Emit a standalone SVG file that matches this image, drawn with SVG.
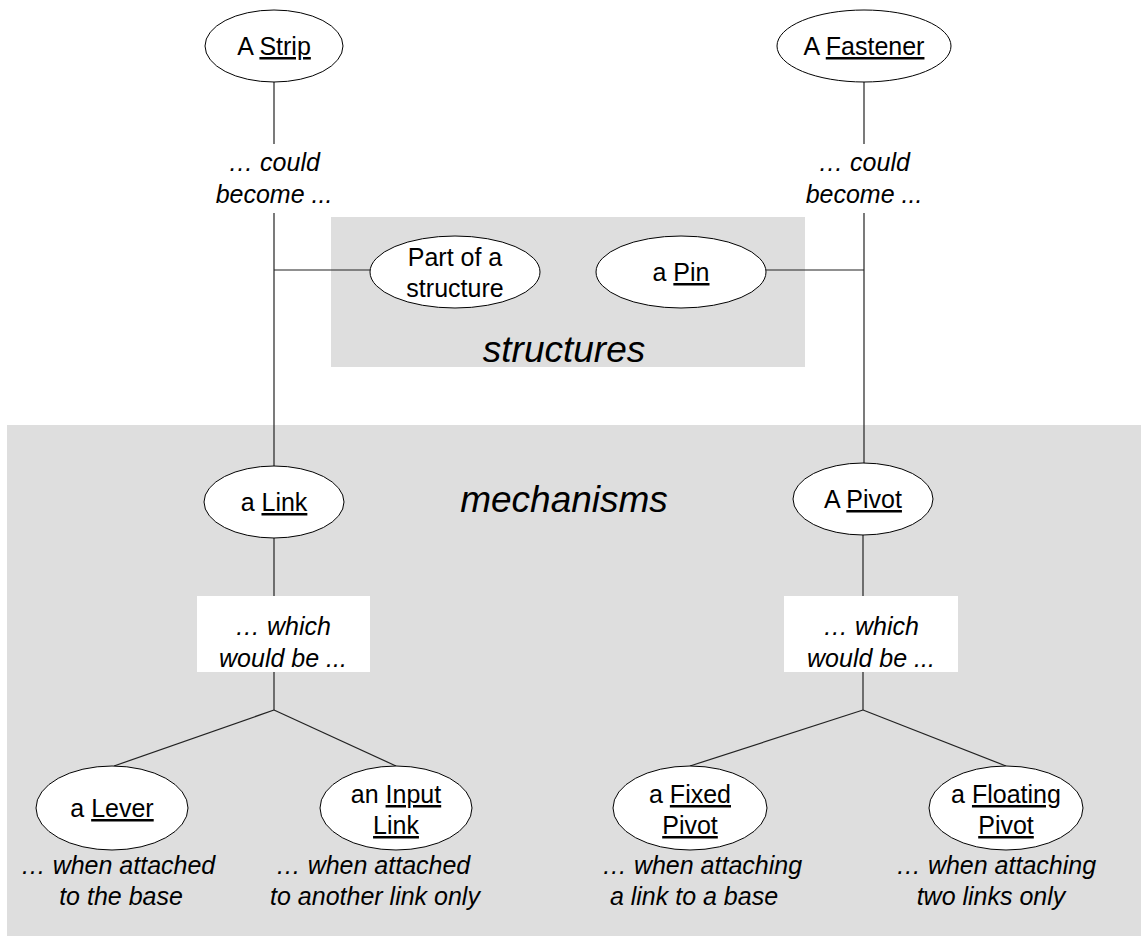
<svg xmlns="http://www.w3.org/2000/svg" width="1141" height="936" viewBox="0 0 1141 936">
<style>
.n{fill:#fff;stroke:#000;stroke-width:1}
.t{font-family:"Liberation Sans",Arial,sans-serif;font-size:25px;fill:#000;text-anchor:middle}
.i{font-style:italic}
.big{font-size:37px}
.u{text-decoration:underline}
.c line{stroke:#222;stroke-width:1.2}
.region{fill:#dedede}
.lbl{fill:#fff}
</style>
<rect class="region" x="7" y="425" width="1134" height="511"/>
<rect class="region" x="331" y="217" width="474" height="150"/>
<text class="t i big" x="564" y="362">structures</text>
<text class="t i big" x="564" y="512">mechanisms</text>
<g class="c" id="connectors">
<line x1="274" y1="82" x2="274" y2="144"/>
<line x1="274" y1="213" x2="274" y2="467"/>
<line x1="274" y1="270" x2="371" y2="270"/>
<line x1="864" y1="82" x2="864" y2="144"/>
<line x1="864" y1="213" x2="864" y2="464"/>
<line x1="766" y1="270" x2="864" y2="270"/>
<line x1="274" y1="537" x2="274" y2="596"/>
<line x1="274" y1="672" x2="274" y2="710"/>
<line x1="274" y1="710" x2="114" y2="766"/>
<line x1="274" y1="710" x2="396" y2="766"/>
<line x1="863" y1="534" x2="863" y2="596"/>
<line x1="863" y1="672" x2="863" y2="710"/>
<line x1="863" y1="710" x2="690" y2="766"/>
<line x1="863" y1="710" x2="1006" y2="766"/>
</g>
<g id="strip"><ellipse class="n" cx="274" cy="46" rx="69" ry="36"/><text class="t" x="274" y="55">A <tspan class="u">Strip</tspan></text></g>
<g id="fastener"><ellipse class="n" cx="864" cy="46" rx="87" ry="36"/><text class="t" x="864" y="55">A <tspan class="u">Fastener</tspan></text></g>
<g id="could1"><text class="t i" x="274" y="171">… could</text><text class="t i" x="274" y="203">become ...</text></g>
<g id="could2"><text class="t i" x="864" y="171">… could</text><text class="t i" x="864" y="203">become ...</text></g>
<g id="part"><ellipse class="n" cx="455" cy="272" rx="85" ry="36"/><text class="t" x="455" y="266">Part of a</text><text class="t" x="455" y="297">structure</text></g>
<g id="pin"><ellipse class="n" cx="681" cy="272" rx="85" ry="36"/><text class="t" x="681" y="281">a <tspan class="u">Pin</tspan></text></g>
<g id="link"><ellipse class="n" cx="274" cy="502" rx="70" ry="36"/><text class="t" x="274" y="511">a <tspan class="u">Link</tspan></text></g>
<g id="pivot"><ellipse class="n" cx="863" cy="499" rx="70" ry="36"/><text class="t" x="863" y="508">A <tspan class="u">Pivot</tspan></text></g>
<g id="which1"><rect class="lbl" x="197" y="596" width="173" height="76"/><text class="t i" x="283" y="635">… which</text><text class="t i" x="283" y="667">would be ...</text></g>
<g id="which2"><rect class="lbl" x="784" y="596" width="174" height="76"/><text class="t i" x="871" y="635">… which</text><text class="t i" x="871" y="667">would be ...</text></g>
<g id="lever"><ellipse class="n" cx="112" cy="808" rx="76" ry="42"/><text class="t" x="112" y="817">a <tspan class="u">Lever</tspan></text></g>
<g id="input"><ellipse class="n" cx="396" cy="808" rx="76" ry="42"/><text class="t" x="396" y="803">an <tspan class="u">Input</tspan></text><text class="t u" x="396" y="834">Link</text></g>
<g id="fixed"><ellipse class="n" cx="690" cy="808" rx="77" ry="42"/><text class="t" x="690" y="803">a <tspan class="u">Fixed</tspan></text><text class="t u" x="690" y="834">Pivot</text></g>
<g id="floating"><ellipse class="n" cx="1006" cy="808" rx="77" ry="42"/><text class="t" x="1006" y="803">a <tspan class="u">Floating</tspan></text><text class="t u" x="1006" y="834">Pivot</text></g>
<g id="note1"><text class="t i" x="118" y="874">… when attached</text><text class="t i" x="121" y="905">to the base</text></g>
<g id="note2"><text class="t i" x="373" y="874">… when attached</text><text class="t i" x="375" y="905">to another link only</text></g>
<g id="note3"><text class="t i" x="702" y="874">… when attaching</text><text class="t i" x="694" y="905">a link to a base</text></g>
<g id="note4"><text class="t i" x="996" y="874">… when attaching</text><text class="t i" x="991" y="905">two links only</text></g>
</svg>
